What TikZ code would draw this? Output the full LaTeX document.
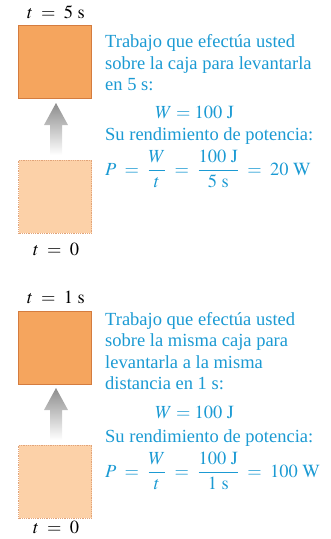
\documentclass[tikz,border=0pt]{standalone}
\usepackage{amsmath}
\usepackage{mathptmx}
\usepackage{fontspec}
\setmainfont{Liberation Serif}
\usetikzlibrary{positioning}
\definecolor{naranja}{HTML}{F5A55E}
\definecolor{naranjaborde}{HTML}{D47C3F}
\definecolor{naranjaclaro}{HTML}{FCD1A8}
\definecolor{azul}{HTML}{1B9AD3}
\newcommand{\unid}[1]{\ \mathrm{#1}}
\newcommand{\igual}{\;=\;}

\begin{document}
\begin{tikzpicture}[x=1pt,y=-1pt,
 every node/.style={font=\fontsize{18.5}{21.5}\selectfont,inner sep=0pt},
 caja/.style={draw=naranjaborde,fill=naranja,line width=1pt,minimum size=73pt},
 cajaini/.style={draw=naranjaborde!70,fill=naranjaclaro,densely dotted,line width=.8pt,minimum size=73pt},
 texto/.style={text=azul,align=left,anchor=north west},
 flecha/.style={top color=black!45,bottom color=white}]
 \useasboundingbox (0,0) rectangle (330,539);
 % primer caso: 5 s
 \node[anchor=base] (t5) at (56,18) {$t \igual 5\unid{s}$};
 \node[caja] (c1) at (55,62) {};
 \node[cajaini] (c0) at (55,196.5) {};
 \node[anchor=base] (t0a) at (56,255) {$t \igual 0$};
 \shade[flecha] (50,155) -- (50,125) -- (44,125) -- (56,103) -- (68,125) -- (62,125) -- (62,155) -- cycle;
 \node[texto] (txa) at (105,34.5) {Trabajo que efectúa usted\\sobre la caja para levantarla\\en 5 s:};
 \node[text=azul,anchor=base west] (wa) at (155,118) {$W = 100\unid{J}$};
 \node[text=azul,anchor=base west] (sa) at (105,140) {Su rendimiento de potencia:};
 \node[text=azul,anchor=base west] (pa) at (105,175)
  {$P \igual \dfrac{W}{t} \igual \dfrac{100\unid{J}}{5\unid{s}} \igual 20\unid{W}$};
 % segundo caso: 1 s
 \node[anchor=base] (t1) at (56,303) {$t \igual 1\unid{s}$};
 \node[caja] (c3) at (55,347.5) {};
 \node[cajaini] (c2) at (55,481.5) {};
 \node[anchor=base] (t0b) at (56,533) {$t \igual 0$};
 \shade[flecha] (50,440) -- (50,410) -- (44,410) -- (56,388) -- (68,410) -- (62,410) -- (62,440) -- cycle;
 \node[texto] (txb) at (105,312) {Trabajo que efectúa usted\\sobre la misma caja para\\levantarla a la misma\\distancia en 1 s:};
 \node[text=azul,anchor=base west] (wb) at (155,418) {$W = 100\unid{J}$};
 \node[text=azul,anchor=base west] (sb) at (105,442) {Su rendimiento de potencia:};
 \node[text=azul,anchor=base west] (pb) at (105,477)
  {$P \igual \dfrac{W}{t} \igual \dfrac{100\unid{J}}{1\unid{s}} \igual 100\unid{W}$};
\end{tikzpicture}
\end{document}
